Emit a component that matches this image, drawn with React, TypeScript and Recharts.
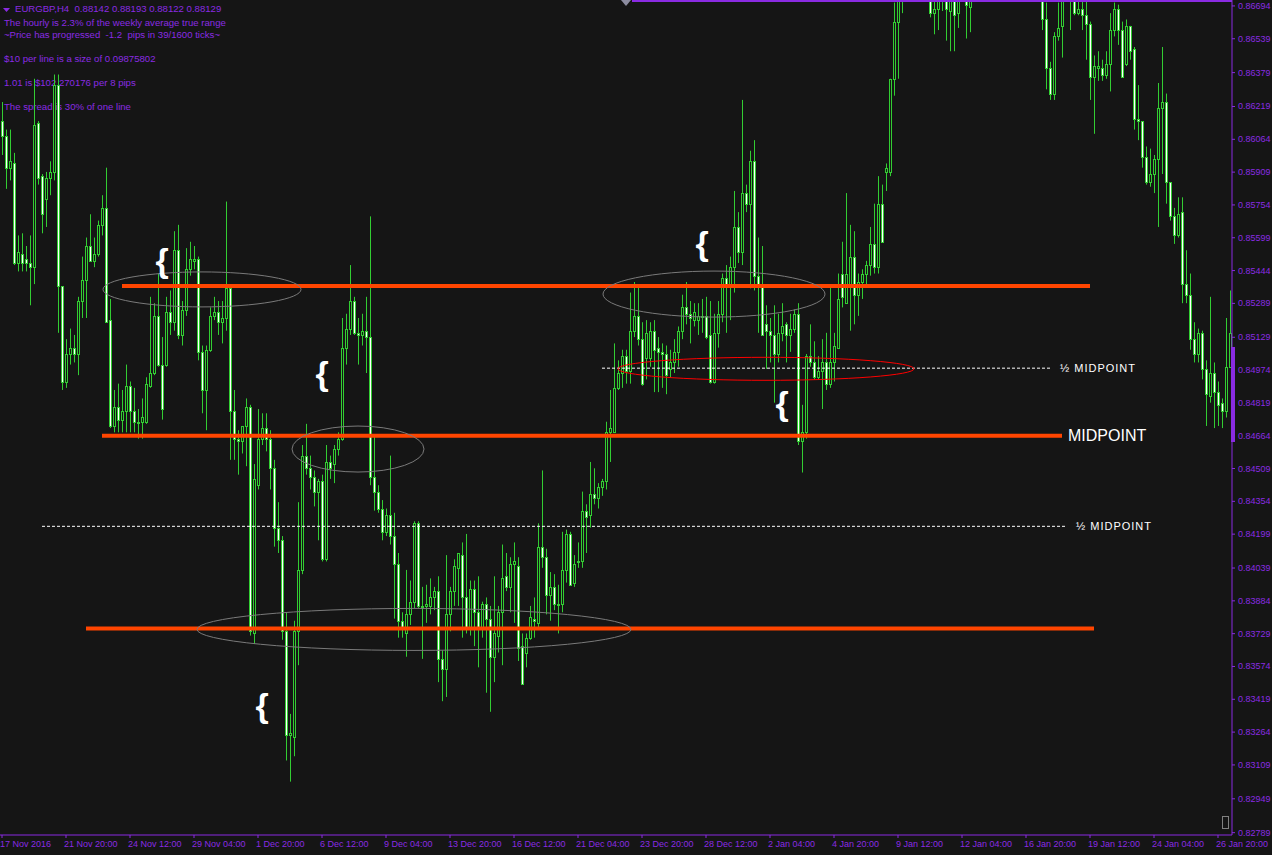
import React from "react";
import { ComposedChart, Bar, XAxis, YAxis, ReferenceLine, ReferenceDot } from "recharts";

// EURGBP H4 candles, one entry per bar
const OPEN = [
  0.8615, 0.8608, 0.8593, 0.8595, 0.8548, 0.8552, 0.8550, 0.8548, 0.8546, 0.8614,
  0.8589, 0.8578, 0.8588, 0.8591, 0.8632, 0.8537, 0.8492, 0.8505, 0.8508, 0.8505,
  0.8530, 0.8540, 0.8556, 0.8549, 0.8552, 0.8566, 0.8574, 0.8521, 0.8471, 0.8480,
  0.8474, 0.8478, 0.8490, 0.8478, 0.8473, 0.8473, 0.8473, 0.8490, 0.8496, 0.8523,
  0.8500, 0.8500, 0.8525, 0.8520, 0.8554, 0.8514, 0.8526, 0.8545, 0.8549, 0.8550,
  0.8506, 0.8488, 0.8507, 0.8523, 0.8525, 0.8520, 0.8522, 0.8536, 0.8478, 0.8465,
  0.8464, 0.8471, 0.8480, 0.8373, 0.8443, 0.8465, 0.8470, 0.8465, 0.8451, 0.8423,
  0.8417, 0.8374, 0.8325, 0.8324, 0.8374, 0.8403, 0.8457, 0.8451, 0.8447, 0.8440,
  0.8445, 0.8408, 0.8454, 0.8453, 0.8460, 0.8465, 0.8508, 0.8517, 0.8530, 0.8515,
  0.8514, 0.8516, 0.8513, 0.8447, 0.8440, 0.8432, 0.8421, 0.8429, 0.8419, 0.8406,
  0.8379, 0.8373, 0.8382, 0.8388, 0.8425, 0.8386, 0.8386, 0.8386, 0.8390, 0.8393,
  0.8361, 0.8356, 0.8382, 0.8393, 0.8404, 0.8410, 0.8390, 0.8376, 0.8394, 0.8383,
  0.8376, 0.8387, 0.8380, 0.8362, 0.8372, 0.8383, 0.8400, 0.8395, 0.8406, 0.8405,
  0.8367, 0.8364, 0.8371, 0.8380, 0.8378, 0.8414, 0.8409, 0.8391, 0.8395, 0.8387,
  0.8387, 0.8403, 0.8420, 0.8397, 0.8407, 0.8407, 0.8431, 0.8429, 0.8439, 0.8437,
  0.8442, 0.8445, 0.8468, 0.8468, 0.8489, 0.8496, 0.8504, 0.8497, 0.8516, 0.8523,
  0.8512, 0.8503, 0.8503, 0.8516, 0.8508, 0.8506, 0.8505, 0.8498, 0.8501, 0.8506,
  0.8516, 0.8527, 0.8524, 0.8521, 0.8521, 0.8523, 0.8523, 0.8514, 0.8492, 0.8515,
  0.8524, 0.8541, 0.8538, 0.8546, 0.8565, 0.8553, 0.8581, 0.8576, 0.8596, 0.8542,
  0.8538, 0.8519, 0.8516, 0.8514, 0.8505, 0.8515, 0.8519, 0.8514, 0.8517, 0.8524,
  0.8464, 0.8468, 0.8504, 0.8501, 0.8494, 0.8497, 0.8501, 0.8491, 0.8501, 0.8508,
  0.8543, 0.8529, 0.8537, 0.8551, 0.8533, 0.8539, 0.8543, 0.8547, 0.8557, 0.8546,
  0.8576, 0.8591, 0.8591, 0.8635, 0.8662, 0.8677, 0.8695, 0.8705, 0.8718, 0.8712,
  0.8721, 0.8733, 0.8690, 0.8666, 0.8668, 0.8680, 0.8684, 0.8667, 0.8681, 0.8666,
  0.8682, 0.8693, 0.8669, 0.8685, 0.8698, 0.8708, 0.8717, 0.8714, 0.8722, 0.8736,
  0.8730, 0.8725, 0.8733, 0.8745, 0.8740, 0.8727, 0.8718, 0.8712, 0.8720, 0.8700,
  0.8690, 0.8663, 0.8640, 0.8628, 0.8655, 0.8660, 0.8680, 0.8691, 0.8687, 0.8666,
  0.8668, 0.8665, 0.8661, 0.8636, 0.8640, 0.8640, 0.8637, 0.8642, 0.8658, 0.8668,
  0.8658, 0.8642, 0.8660, 0.8649, 0.8616, 0.8615, 0.8598, 0.8586, 0.8590, 0.8597,
  0.8621, 0.8624, 0.8586, 0.8570, 0.8561, 0.8572, 0.8538, 0.8533, 0.8512, 0.8505,
  0.8515, 0.8498, 0.8485, 0.8496, 0.8487, 0.8482, 0.8478, 0.8499,
];

const HIGH = [
  0.8624, 0.8611, 0.8611, 0.8600, 0.8561, 0.8562, 0.8556, 0.8561, 0.8635, 0.8615,
  0.8590, 0.8591, 0.8596, 0.8637, 0.8637, 0.8537, 0.8512, 0.8517, 0.8514, 0.8532,
  0.8551, 0.8560, 0.8571, 0.8560, 0.8568, 0.8580, 0.8593, 0.8531, 0.8488, 0.8491,
  0.8488, 0.8500, 0.8492, 0.8489, 0.8479, 0.8484, 0.8494, 0.8532, 0.8529, 0.8543,
  0.8513, 0.8532, 0.8535, 0.8563, 0.8566, 0.8530, 0.8555, 0.8558, 0.8556, 0.8551,
  0.8509, 0.8509, 0.8527, 0.8532, 0.8530, 0.8530, 0.8577, 0.8536, 0.8488, 0.8469,
  0.8471, 0.8484, 0.8481, 0.8453, 0.8479, 0.8477, 0.8477, 0.8469, 0.8455, 0.8435,
  0.8419, 0.8383, 0.8335, 0.8379, 0.8435, 0.8462, 0.8472, 0.8457, 0.8450, 0.8446,
  0.8448, 0.8462, 0.8457, 0.8462, 0.8468, 0.8522, 0.8524, 0.8547, 0.8532, 0.8522,
  0.8524, 0.8532, 0.8570, 0.8466, 0.8443, 0.8436, 0.8432, 0.8457, 0.8430, 0.8411,
  0.8383, 0.8403, 0.8398, 0.8426, 0.8426, 0.8395, 0.8396, 0.8399, 0.8395, 0.8400,
  0.8365, 0.8410, 0.8395, 0.8408, 0.8411, 0.8416, 0.8420, 0.8398, 0.8398, 0.8400,
  0.8388, 0.8390, 0.8386, 0.8400, 0.8386, 0.8415, 0.8411, 0.8409, 0.8416, 0.8409,
  0.8373, 0.8373, 0.8386, 0.8390, 0.8425, 0.8450, 0.8413, 0.8402, 0.8401, 0.8396,
  0.8421, 0.8422, 0.8421, 0.8410, 0.8416, 0.8440, 0.8434, 0.8454, 0.8451, 0.8444,
  0.8446, 0.8473, 0.8488, 0.8510, 0.8502, 0.8507, 0.8507, 0.8534, 0.8539, 0.8538,
  0.8520, 0.8521, 0.8520, 0.8521, 0.8513, 0.8510, 0.8509, 0.8507, 0.8512, 0.8518,
  0.8533, 0.8539, 0.8530, 0.8529, 0.8529, 0.8531, 0.8532, 0.8530, 0.8524, 0.8530,
  0.8543, 0.8547, 0.8551, 0.8582, 0.8572, 0.8625, 0.8585, 0.8601, 0.8606, 0.8560,
  0.8556, 0.8528, 0.8522, 0.8528, 0.8524, 0.8529, 0.8520, 0.8524, 0.8526, 0.8529,
  0.8481, 0.8505, 0.8519, 0.8511, 0.8504, 0.8512, 0.8515, 0.8537, 0.8515, 0.8543,
  0.8558, 0.8581, 0.8566, 0.8563, 0.8543, 0.8545, 0.8549, 0.8565, 0.8576, 0.8589,
  0.8585, 0.8595, 0.8635, 0.8671, 0.8691, 0.8702, 0.8710, 0.8722, 0.8731, 0.8726,
  0.8738, 0.8744, 0.8698, 0.8675, 0.8686, 0.8690, 0.8688, 0.8689, 0.8686, 0.8690,
  0.8697, 0.8699, 0.8692, 0.8702, 0.8712, 0.8723, 0.8730, 0.8726, 0.8741, 0.8748,
  0.8742, 0.8737, 0.8751, 0.8758, 0.8749, 0.8739, 0.8732, 0.8725, 0.8731, 0.8711,
  0.8697, 0.8671, 0.8643, 0.8657, 0.8671, 0.8688, 0.8696, 0.8700, 0.8694, 0.8676,
  0.8674, 0.8674, 0.8662, 0.8646, 0.8648, 0.8644, 0.8648, 0.8666, 0.8671, 0.8670,
  0.8662, 0.8663, 0.8660, 0.8650, 0.8632, 0.8615, 0.8603, 0.8602, 0.8599, 0.8633,
  0.8650, 0.8628, 0.8586, 0.8574, 0.8579, 0.8579, 0.8554, 0.8543, 0.8520, 0.8517,
  0.8516, 0.8502, 0.8532, 0.8501, 0.8492, 0.8484, 0.8522, 0.8535,
];

const LOW = [
  0.8599, 0.8583, 0.8587, 0.8547, 0.8544, 0.8544, 0.8544, 0.8528, 0.8538, 0.8585,
  0.8562, 0.8565, 0.8580, 0.8587, 0.8515, 0.8488, 0.8489, 0.8500, 0.8501, 0.8495,
  0.8522, 0.8522, 0.8549, 0.8546, 0.8551, 0.8561, 0.8520, 0.8470, 0.8468, 0.8468,
  0.8468, 0.8468, 0.8468, 0.8468, 0.8465, 0.8465, 0.8472, 0.8489, 0.8495, 0.8499,
  0.8474, 0.8499, 0.8514, 0.8516, 0.8512, 0.8509, 0.8523, 0.8542, 0.8545, 0.8502,
  0.8477, 0.8469, 0.8506, 0.8521, 0.8514, 0.8510, 0.8516, 0.8455, 0.8455, 0.8448,
  0.8458, 0.8452, 0.8372, 0.8368, 0.8441, 0.8462, 0.8459, 0.8441, 0.8414, 0.8411,
  0.8370, 0.8313, 0.8303, 0.8315, 0.8358, 0.8401, 0.8448, 0.8441, 0.8433, 0.8417,
  0.8407, 0.8407, 0.8446, 0.8444, 0.8457, 0.8464, 0.8500, 0.8514, 0.8514, 0.8500,
  0.8509, 0.8496, 0.8443, 0.8431, 0.8430, 0.8417, 0.8419, 0.8415, 0.8380, 0.8371,
  0.8371, 0.8362, 0.8377, 0.8385, 0.8385, 0.8361, 0.8378, 0.8382, 0.8384, 0.8350,
  0.8341, 0.8343, 0.8374, 0.8386, 0.8386, 0.8371, 0.8373, 0.8372, 0.8367, 0.8357,
  0.8371, 0.8345, 0.8336, 0.8350, 0.8364, 0.8358, 0.8393, 0.8383, 0.8378, 0.8360,
  0.8349, 0.8357, 0.8370, 0.8371, 0.8376, 0.8404, 0.8382, 0.8379, 0.8384, 0.8373,
  0.8383, 0.8397, 0.8396, 0.8395, 0.8404, 0.8404, 0.8411, 0.8423, 0.8434, 0.8432,
  0.8438, 0.8441, 0.8454, 0.8468, 0.8488, 0.8489, 0.8491, 0.8491, 0.8513, 0.8509,
  0.8490, 0.8493, 0.8499, 0.8487, 0.8487, 0.8489, 0.8486, 0.8494, 0.8496, 0.8499,
  0.8512, 0.8519, 0.8510, 0.8518, 0.8514, 0.8515, 0.8512, 0.8491, 0.8491, 0.8508,
  0.8520, 0.8515, 0.8521, 0.8534, 0.8548, 0.8547, 0.8572, 0.8536, 0.8535, 0.8515,
  0.8514, 0.8498, 0.8501, 0.8482, 0.8501, 0.8511, 0.8501, 0.8506, 0.8515, 0.8462,
  0.8449, 0.8465, 0.8499, 0.8493, 0.8493, 0.8479, 0.8488, 0.8489, 0.8492, 0.8508,
  0.8527, 0.8529, 0.8516, 0.8519, 0.8523, 0.8531, 0.8538, 0.8542, 0.8543, 0.8543,
  0.8558, 0.8582, 0.8589, 0.8627, 0.8635, 0.8666, 0.8684, 0.8698, 0.8706, 0.8700,
  0.8714, 0.8690, 0.8664, 0.8656, 0.8658, 0.8667, 0.8653, 0.8648, 0.8648, 0.8659,
  0.8676, 0.8654, 0.8657, 0.8680, 0.8692, 0.8701, 0.8709, 0.8703, 0.8717, 0.8725,
  0.8718, 0.8713, 0.8727, 0.8734, 0.8722, 0.8712, 0.8706, 0.8699, 0.8694, 0.8684,
  0.8658, 0.8630, 0.8625, 0.8625, 0.8653, 0.8645, 0.8676, 0.8658, 0.8665, 0.8665,
  0.8658, 0.8644, 0.8625, 0.8609, 0.8634, 0.8634, 0.8635, 0.8629, 0.8655, 0.8651,
  0.8636, 0.8641, 0.8644, 0.8611, 0.8606, 0.8593, 0.8585, 0.8584, 0.8581, 0.8565,
  0.8590, 0.8576, 0.8568, 0.8557, 0.8560, 0.8529, 0.8529, 0.8507, 0.8501, 0.8501,
  0.8493, 0.8471, 0.8482, 0.8470, 0.8471, 0.8470, 0.8475, 0.8499,
];

const CLOSE = [
  0.8608, 0.8593, 0.8596, 0.8548, 0.8553, 0.8548, 0.8548, 0.8546, 0.8613, 0.8588,
  0.8571, 0.8588, 0.8591, 0.8632, 0.8537, 0.8492, 0.8505, 0.8508, 0.8505, 0.8530,
  0.8540, 0.8556, 0.8549, 0.8552, 0.8566, 0.8574, 0.8520, 0.8471, 0.8480, 0.8474,
  0.8478, 0.8490, 0.8478, 0.8473, 0.8473, 0.8475, 0.8491, 0.8496, 0.8523, 0.8500,
  0.8479, 0.8525, 0.8520, 0.8554, 0.8514, 0.8526, 0.8545, 0.8550, 0.8550, 0.8506,
  0.8488, 0.8507, 0.8523, 0.8525, 0.8520, 0.8522, 0.8536, 0.8478, 0.8465, 0.8464,
  0.8471, 0.8480, 0.8374, 0.8446, 0.8465, 0.8470, 0.8465, 0.8451, 0.8423, 0.8417,
  0.8374, 0.8325, 0.8326, 0.8374, 0.8403, 0.8457, 0.8451, 0.8447, 0.8440, 0.8445,
  0.8408, 0.8454, 0.8451, 0.8460, 0.8465, 0.8508, 0.8517, 0.8530, 0.8515, 0.8514,
  0.8516, 0.8513, 0.8447, 0.8440, 0.8432, 0.8421, 0.8429, 0.8419, 0.8406, 0.8379,
  0.8376, 0.8382, 0.8388, 0.8425, 0.8386, 0.8386, 0.8387, 0.8390, 0.8393, 0.8361,
  0.8356, 0.8382, 0.8393, 0.8405, 0.8411, 0.8390, 0.8376, 0.8394, 0.8383, 0.8376,
  0.8387, 0.8380, 0.8362, 0.8373, 0.8383, 0.8399, 0.8395, 0.8406, 0.8407, 0.8366,
  0.8349, 0.8371, 0.8381, 0.8379, 0.8414, 0.8409, 0.8391, 0.8395, 0.8387, 0.8387,
  0.8403, 0.8420, 0.8396, 0.8406, 0.8407, 0.8431, 0.8428, 0.8439, 0.8437, 0.8442,
  0.8445, 0.8468, 0.8470, 0.8489, 0.8496, 0.8504, 0.8497, 0.8516, 0.8523, 0.8512,
  0.8491, 0.8515, 0.8516, 0.8507, 0.8506, 0.8505, 0.8495, 0.8501, 0.8506, 0.8516,
  0.8527, 0.8524, 0.8522, 0.8525, 0.8523, 0.8523, 0.8513, 0.8492, 0.8515, 0.8524,
  0.8541, 0.8538, 0.8546, 0.8565, 0.8553, 0.8581, 0.8576, 0.8596, 0.8542, 0.8538,
  0.8514, 0.8516, 0.8514, 0.8505, 0.8515, 0.8518, 0.8514, 0.8517, 0.8524, 0.8464,
  0.8468, 0.8504, 0.8501, 0.8494, 0.8497, 0.8501, 0.8491, 0.8501, 0.8509, 0.8531,
  0.8532, 0.8543, 0.8551, 0.8533, 0.8539, 0.8543, 0.8547, 0.8557, 0.8546, 0.8576,
  0.8558, 0.8593, 0.8635, 0.8662, 0.8677, 0.8695, 0.8705, 0.8718, 0.8712, 0.8721,
  0.8733, 0.8696, 0.8666, 0.8668, 0.8680, 0.8684, 0.8668, 0.8681, 0.8665, 0.8682,
  0.8693, 0.8670, 0.8685, 0.8698, 0.8708, 0.8717, 0.8714, 0.8722, 0.8736, 0.8730,
  0.8725, 0.8733, 0.8745, 0.8740, 0.8727, 0.8718, 0.8712, 0.8720, 0.8700, 0.8690,
  0.8663, 0.8640, 0.8628, 0.8655, 0.8659, 0.8680, 0.8691, 0.8687, 0.8666, 0.8668,
  0.8665, 0.8661, 0.8636, 0.8641, 0.8641, 0.8637, 0.8642, 0.8658, 0.8668, 0.8658,
  0.8636, 0.8660, 0.8648, 0.8616, 0.8615, 0.8598, 0.8586, 0.8590, 0.8597, 0.8621,
  0.8624, 0.8586, 0.8570, 0.8561, 0.8571, 0.8538, 0.8533, 0.8512, 0.8505, 0.8515,
  0.8498, 0.8486, 0.8496, 0.8487, 0.8481, 0.8478, 0.8499, 0.8515,
];

const X_TICK_BARS = [0, 16, 32, 48, 64, 80, 96, 112, 128, 144, 160, 176, 192, 208, 224, 240, 256, 272, 288, 304];
const X_TICK_LABELS = [
  "17 Nov 2016", "21 Nov 20:00", "24 Nov 12:00", "29 Nov 04:00", "1 Dec 20:00",
  "6 Dec 12:00", "9 Dec 04:00", "13 Dec 20:00", "16 Dec 12:00", "21 Dec 04:00",
  "23 Dec 20:00", "28 Dec 12:00", "2 Jan 04:00", "4 Jan 20:00", "9 Jan 12:00",
  "12 Jan 04:00", "16 Jan 20:00", "19 Jan 12:00", "24 Jan 04:00", "26 Jan 20:00",
];

const Y_TICKS = [
  0.86694, 0.86539, 0.86379, 0.86219, 0.86064, 0.85909, 0.85754, 0.85599, 0.85444,
  0.85289, 0.85129, 0.84974, 0.84819, 0.84664, 0.84509, 0.84354, 0.84199, 0.84039,
  0.83884, 0.83729, 0.83574, 0.83419, 0.83264, 0.83109, 0.82949, 0.82789,
];
const Y_DOMAIN = [0.82778, 0.86722];

const HEADER_LINES = [
  "The hourly is 2.3% of the weekly average true range",
  "~Price has progressed  -1.2  pips in 39/1600 ticks~",
  "$10 per line is a size of 0.09875802",
  "1.01 is $102.270176 per 8 pips",
  "The spread is 30% of one line",
];

// drawn levels: [fromBar, toBar, price]
const SUPPORT_LINES = [
  [30, 272, 0.85371],
  [25, 265, 0.84664],
  [21, 273, 0.83753],
];
const HALF_LINES = [
  [10, 266, 0.84236],
  [150, 262, 0.84983],
];

// ellipse annotations: bar, price, rx, ry, colour
const ELLIPSES: [number, number, number, number, string][] = [
  [50, 0.85355, 99, 17.5, "#7a7a7a"],
  [89, 0.84601, 66, 23, "#7a7a7a"],
  [103, 0.83749, 217, 21, "#7a7a7a"],
  [178, 0.85333, 111, 23, "#7a7a7a"],
  [191, 0.8498, 148, 11.5, "#ff0000"],
];
const BRACES = [
  [40, 0.85485],
  [80, 0.84951],
  [175, 0.85565],
  [195, 0.84809],
  [65, 0.83383],
];

const BG = "#151515";
const GREEN = "#32cd32";
const PURPLE = "#8a2be2";
const ORANGE = "#ff4500";
const FONT = "Liberation Sans, Arial, sans-serif";

const data = OPEN.map((o, i) => ({ i, o, h: HIGH[i], l: LOW[i], c: CLOSE[i] }));

const Candle = (props: any) => {
  const { x, y, width, height, payload } = props;
  if (x == null || y == null || !payload) return null;
  const top = Math.min(y, y + height);
  const bot = Math.max(y, y + height);
  const { o, h, l, c } = payload;
  const k = (bot - top) / (h - l || 1);
  const cx = Math.round(x + width / 2);
  const t = Math.round(top + (h - Math.max(o, c)) * k) + 0.5;
  const b = Math.round(top + (h - Math.min(o, c)) * k) + 0.5;
  const bear = c < o;
  return (
    <g>
      <line x1={cx + 0.5} x2={cx + 0.5} y1={top} y2={bot} stroke={GREEN} strokeWidth={1} />
      <rect x={cx - 0.5} y={t} width={2} height={Math.max(b - t, 1)} fill={bear ? "#ffffff" : BG} stroke={GREEN} strokeWidth={1} />
    </g>
  );
};

const XTick = (props: any) => {
  const { x, y, payload } = props;
  const idx = X_TICK_BARS.indexOf(payload.value);
  return (
    <text x={x - 2} y={y + 7} fill={PURPLE} fontSize={9} fontFamily={FONT}>
      {X_TICK_LABELS[idx]}
    </text>
  );
};

const YTick = (props: any) => {
  const { x, y, payload } = props;
  return (
    <text x={x + 1} y={y + 3} fill={PURPLE} fontSize={9} fontFamily={FONT}>
      {Number(payload.value).toFixed(5)}
    </text>
  );
};

const textDot = (label: string, size: number, spacing = 0) => (p: any) => (
  <text x={p.cx + 2} y={p.cy} dy="0.35em" fill="#ffffff" fontSize={size} fontFamily={FONT} letterSpacing={spacing}>
    {label}
  </text>
);

export default function App() {
  return (
    <div style={{ position: "absolute", left: 0, top: 0, width: 1272, height: 855, background: BG, overflow: "hidden" }}>
      {/* indicator text sits under the candles */}
      <svg width={300} height={120} style={{ position: "absolute", left: 0, top: 0 }}>
        <polygon points="3,8 10,8 6.5,12" fill={PURPLE} />
        <text x={15} y={12} fill={PURPLE} fontSize={9.6} fontFamily={FONT} style={{ whiteSpace: "pre" }}>
          {"EURGBP,H4  0.88142 0.88193 0.88122 0.88129"}
        </text>
        {HEADER_LINES.map((s, i) => (
          <text key={i} x={4} y={[26, 38, 62, 86, 110][i]} fill={PURPLE} fontSize={9.6} fontFamily={FONT} style={{ whiteSpace: "pre" }}>
            {s}
          </text>
        ))}
      </svg>

      <div style={{ position: "absolute", left: 0, top: 0 }}>
        <ComposedChart width={1272} height={855} data={data} margin={{ top: 0, right: 0, bottom: 0, left: 0 }} barCategoryGap={0} barGap={0}>
          <XAxis
            dataKey="i"
            type="category"
            ticks={X_TICK_BARS}
            interval={0}
            height={20}
            tick={<XTick />}
            tickSize={3}
            axisLine={{ stroke: PURPLE }}
            tickLine={{ stroke: PURPLE }}
          />
          <YAxis
            orientation="right"
            type="number"
            domain={Y_DOMAIN}
            allowDataOverflow
            ticks={Y_TICKS}
            interval={0}
            width={40}
            tick={<YTick />}
            tickSize={3}
            axisLine={{ stroke: PURPLE }}
            tickLine={{ stroke: PURPLE }}
          />
          <Bar dataKey={(d: any) => [d.l, d.h]} shape={<Candle />} isAnimationActive={false} />

          {SUPPORT_LINES.map(([a, b, p], i) => (
            <ReferenceLine key={"s" + i} segment={[{ x: a, y: p }, { x: b, y: p }]} stroke={ORANGE} strokeWidth={4} ifOverflow="visible" />
          ))}
          {HALF_LINES.map(([a, b, p], i) => (
            <ReferenceLine key={"h" + i} segment={[{ x: a, y: p }, { x: b, y: p }]} stroke="#ffffff" strokeWidth={1} strokeDasharray="3 2" ifOverflow="visible" />
          ))}
          {ELLIPSES.map(([bar, p, rx, ry, col], i) => (
            <ReferenceDot
              key={"e" + i}
              x={bar}
              y={p}
              ifOverflow="visible"
              shape={(s: any) => <ellipse cx={s.cx} cy={s.cy} rx={rx} ry={ry} fill="none" stroke={col} strokeWidth={1} />}
            />
          ))}
          {BRACES.map(([bar, p], i) => (
            <ReferenceDot
              key={"b" + i}
              x={bar}
              y={p}
              ifOverflow="visible"
              shape={(s: any) => (
                <text x={s.cx} y={s.cy} dy="0.3em" textAnchor="middle" fill="#ffffff" fontSize={34} fontWeight="bold" fontFamily={FONT}>
                  {"{"}
                </text>
              )}
            />
          ))}
          <ReferenceDot x={266} y={0.84664} ifOverflow="visible" shape={textDot("MIDPOINT", 16)} />
          <ReferenceDot x={264} y={0.84983} ifOverflow="visible" shape={textDot("½ MIDPOINT", 11, 1)} />
          <ReferenceDot x={268} y={0.84236} ifOverflow="visible" shape={textDot("½ MIDPOINT", 11, 1)} />
        </ComposedChart>
      </div>

      {/* terminal furniture: top line, shift marker, price bar, scroll icon */}
      <div style={{ position: "absolute", left: 632, top: 0, width: 600, height: 2, background: PURPLE }} />
      <svg width={12} height={8} style={{ position: "absolute", left: 620, top: 0 }}>
        <polygon points="1,0 11,0 6,6" fill="#8c8ca0" />
      </svg>
      <div style={{ position: "absolute", left: 1231, top: 347, width: 4, height: 95, background: PURPLE }} />
      <div style={{ position: "absolute", left: 1222, top: 816, width: 5, height: 11, border: "1px solid #808080" }} />
    </div>
  );
}
